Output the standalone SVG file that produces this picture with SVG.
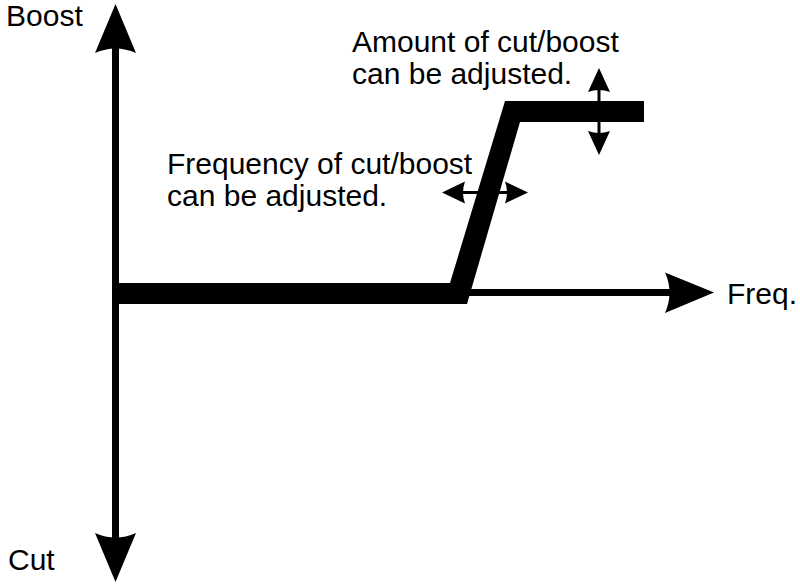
<svg xmlns="http://www.w3.org/2000/svg" width="800" height="585" viewBox="0 0 800 585">
<style>
text{font-family:"Liberation Sans",Arial,sans-serif;font-size:30px;fill:#000}
.thin{stroke:#000;stroke-width:3;fill:none}
</style>
<rect width="800" height="585" fill="#fff"/>
<g id="connectors">
<line x1="115.5" y1="40" x2="115.5" y2="545" stroke="#000" stroke-width="7"/>
<path d="M115.5,4 L136,53 Q115.5,44 95,53 Z"/>
<path d="M115.5,582 L136,533 Q115.5,542 95,533 Z"/>
<line x1="115" y1="292.5" x2="675" y2="292.5" stroke="#000" stroke-width="7"/>
<path d="M714,292.5 L665,272.5 Q674,292.5 665,313 Z"/>
</g>
<g id="curve">
<polygon points="119,283 450,283 505,101 644,101 644,122 520,122 467,304 119,304"/>
</g>
<g id="freq-adjust">
<line class="thin" x1="455" y1="192.5" x2="515" y2="192.5"/>
<path d="M442,192.5 L465,181.5 Q461,192.5 465,203.5 Z"/>
<path d="M528,192.5 L505,181.5 Q509,192.5 505,203.5 Z"/>
</g>
<g id="amount-adjust">
<line class="thin" x1="599" y1="82" x2="599" y2="142"/>
<path d="M599,68 L588,92 Q599,88 610,92 Z"/>
<path d="M599,155 L588,131 Q599,135 610,131 Z"/>
</g>
<g id="labels">
<text x="6" y="26">Boost</text>
<text x="8" y="570">Cut</text>
<text x="727" y="304">Freq.</text>
<text x="352" y="52">Amount of cut/boost</text>
<text x="352" y="84">can be adjusted.</text>
<text x="167" y="174">Frequency of cut/boost</text>
<text x="167" y="206">can be adjusted.</text>
</g>
</svg>
